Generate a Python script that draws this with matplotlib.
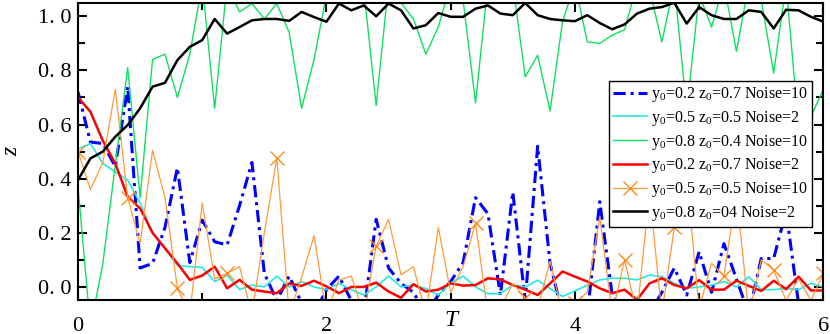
import numpy as np
import matplotlib
matplotlib.use('Agg')
import matplotlib.pyplot as plt
from matplotlib.ticker import MultipleLocator, FuncFormatter

plt.rcParams['font.family'] = ['Liberation Serif', 'DejaVu Serif']
plt.rcParams['mathtext.fontset'] = 'custom'
plt.rcParams['mathtext.rm'] = 'Liberation Serif'
plt.rcParams['mathtext.it'] = 'Liberation Serif:italic'

# time axis, one sample every 0.1
T = np.round(np.arange(61) * 0.1, 1)

z_blue = [0.72, 0.535, 0.53, 0.445, 0.74, 0.07, 0.087, 0.22, 0.44, 0.09,
          0.247, 0.167, 0.155, 0.30, 0.46, 0.05, -0.05, 0.04, -0.06, -0.1,
          -0.01, 0.04, -0.05, -0.1, 0.25, 0.07, 0.013, -0.02, -0.1, -0.03,
          0.02, 0.09, 0.33, 0.27, -0.03, 0.35, -0.05, 0.52, 0.087, -0.1,
          -0.1, -0.1, 0.315, -0.03, -0.1, -0.1, -0.1, -0.02, 0.07, -0.03,
          0.13, -0.02, 0.16, 0.03, -0.1, 0.105, 0.105, 0.28, -0.06, -0.1, -0.1]
z_cyan = [0.51, 0.53, 0.456, 0.425, 0.395, 0.31, 0.2, 0.143, 0.08, 0.075,
          0.072, 0.02, 0.044, -0.01, 0.007, 0.0, 0.04, 0.0, 0.02, 0.0,
          -0.01, 0.013, -0.01, -0.03, 0.0, 0.04, 0.0, 0.007, -0.006, -0.03,
          0.015, 0.04, 0.0, -0.025, -0.025, 0.007, 0.0, 0.025, -0.006, -0.035,
          -0.015, 0.007, 0.026, 0.032, 0.032, 0.026, 0.044, 0.038, 0.013, -0.005,
          0.0, 0.007, 0.02, 0.0, 0.038, -0.01, -0.01, -0.005, -0.01, 0.013, 0.0]
z_green = [0.37, -0.15, 0.087, 0.45, 0.81, 0.33, 0.84, 0.86, 0.70, 0.86,
           1.12, 0.66, 1.12, 1.016, 1.047, 0.99, 1.047, 0.94, 0.66, 0.84,
           1.08, 1.12, 1.12, 1.1, 0.67, 1.12, 1.05, 0.99, 0.86, 0.96,
           1.12, 1.06, 0.68, 1.12, 1.12, 1.12, 0.776, 0.856, 0.65, 0.98,
           1.12, 0.905, 0.9, 0.93, 0.95, 1.12, 1.1, 0.905, 1.12, 0.65,
           1.08, 0.96, 1.12, 0.87, 1.12, 1.06, 0.79, 1.12, 0.59, 0.63, 0.73]
z_red = [0.70, 0.647, 0.54, 0.456, 0.333, 0.29, 0.2, 0.143, 0.087, 0.026,
         0.042, 0.075, -0.005, 0.026, -0.01, -0.017, -0.023, 0.013, 0.004, 0.023,
         0.002, -0.023, 0.0, 0.0, 0.016, -0.017, -0.04, 0.01, -0.017, -0.01,
         0.013, 0.005, 0.007, 0.032, 0.028, 0.007, -0.01, -0.03, 0.013, 0.057,
         0.038, 0.02, -0.005, -0.023, -0.01, -0.048, 0.013, 0.032, 0.007, -0.005,
         0.025, -0.01, -0.01, 0.023, 0.004, -0.015, 0.023, -0.008, 0.038, -0.013, -0.013]
z_orange = [0.50, 0.36, 0.46, 0.73, 0.33, 0.16, 0.505, 0.33, -0.005, -0.1,
            0.31, 0.03, 0.05, 0.075, -0.1, 0.2, 0.475, -0.1, 0.035, 0.19,
            -0.1, 0.026, 0.04, -0.1, 0.15, 0.25, 0.045, 0.075, -0.1, 0.22,
            -0.02, 0.075, 0.235, -0.1, -0.08, 0.013, -0.04, -0.08, 0.095, -0.1,
            -0.06, -0.02, 0.26, -0.1, 0.1, -0.1, 0.35, -0.1, 0.22, 0.4,
            -0.08, 0.087, 0.04, 0.35, -0.1, 0.1, 0.063, -0.05, 0.03, -0.05, 0.05]
z_black = [0.395, 0.475, 0.50, 0.555, 0.598, 0.66, 0.74, 0.754, 0.838, 0.887,
           0.912, 0.99, 0.936, 0.96, 0.985, 0.99, 0.99, 0.983, 1.016, 0.997,
           0.98, 1.047, 1.022, 1.04, 1.0, 1.047, 1.022, 0.955, 0.967, 1.012,
           0.998, 0.998, 1.028, 1.04, 1.01, 1.004, 1.049, 1.004, 0.99, 0.985,
           0.982, 1.004, 0.975, 0.952, 0.97, 1.01, 1.028, 1.034, 1.05, 0.973,
           1.034, 1.004, 0.99, 0.99, 1.022, 1.016, 0.955, 1.024, 1.022, 0.998, 0.98]

labels = ['y$_0$=0.2 z$_0$=0.7 Noise=10',
          'y$_0$=0.5 z$_0$=0.5 Noise=2',
          'y$_0$=0.8 z$_0$=0.4 Noise=10',
          'y$_0$=0.2 z$_0$=0.7 Noise=2',
          'y$_0$=0.5 z$_0$=0.5 Noise=10',
          'y$_0$=0.8 z$_0$=04 Noise=2']

fig = plt.figure(figsize=(8.3, 3.34), dpi=100)
ax = fig.add_axes([0.094, 0.102, 0.898, 0.889])

ax.plot(T, z_blue, color='#0000ff', lw=2.2, ls=(0, (4, 1.6, 1, 1.6)), label=labels[0])
ax.plot(T, z_cyan, color='#22e8e8', lw=1.2, label=labels[1])
ax.plot(T, z_green, color='#10e060', lw=1.0, label=labels[2])
ax.plot(T, z_red, color='#ff0000', lw=1.8, label=labels[3])
ax.plot(T, z_orange, color='#ff9a3c', lw=0.9, marker='x', markevery=4,
        markersize=10, markeredgecolor='#ff8c1a', markeredgewidth=1.0, label=labels[4])
ax.plot(T, z_black, color='black', lw=1.8, label=labels[5])

ax.set_xlim(0, 6)
ax.set_ylim(-0.048, 1.049)

ax.xaxis.set_major_locator(MultipleLocator(2))
ax.xaxis.set_minor_locator(MultipleLocator(1))
ax.yaxis.set_major_locator(MultipleLocator(0.2))
ax.yaxis.set_minor_locator(MultipleLocator(0.1))
ax.xaxis.set_major_formatter(FuncFormatter(lambda v, p: '%d' % round(v)))
ax.yaxis.set_major_formatter(FuncFormatter(lambda v, p: ('%.1f' % v).replace('.', '. ')))

ax.tick_params(which='both', direction='in', top=True, right=True, width=1.5)
ax.tick_params(which='major', length=6.5, labelsize=16)
ax.tick_params(axis='x', which='major', pad=12)
ax.tick_params(axis='y', which='major', pad=5)
ax.tick_params(which='minor', length=5)
for s in ax.spines.values():
    s.set_linewidth(1.5)

ax.text(3.0, -0.07, 'T', transform=ax.get_xaxis_transform(), ha='center', va='center',
        fontsize=17, style='italic')
ax.text(-0.089, 0.5, 'z', transform=ax.transAxes, ha='center', va='center',
        fontsize=17, style='italic', rotation=90)

leg = ax.legend(loc='upper left', bbox_to_anchor=(0.713, 0.737), borderaxespad=0,
                fontsize=11.5, frameon=True, fancybox=False, framealpha=1,
                edgecolor='black', handlelength=2.1, handletextpad=0.25,
                labelspacing=0.3, borderpad=0.25)
leg.get_frame().set_linewidth(1.0)

fig.savefig('out.png', dpi=100)
